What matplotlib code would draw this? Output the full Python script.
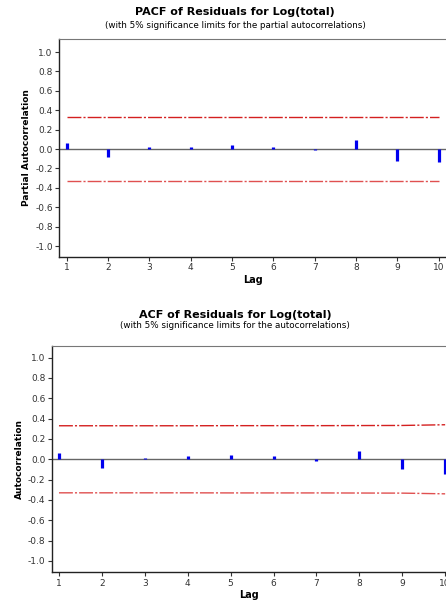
import numpy as np
import matplotlib
matplotlib.use('Agg')
from matplotlib import pyplot as plt

# 读图估计的数值
lags = [1, 2, 3, 4, 5, 6, 7, 8, 9, 10]
pacf = [0.058, -0.087, 0.02, 0.02, 0.04, 0.02, -0.01, 0.093, -0.12, -0.13]
pacf_limit = [0.33, 0.33, 0.33, 0.33, 0.33, 0.33, 0.33, 0.33, 0.33, 0.33]
acf = [0.06, -0.083, 0.01, 0.033, 0.043, 0.03, -0.015, 0.082, -0.10, -0.14]
acf_limit = [0.330, 0.330, 0.330, 0.330, 0.331, 0.331, 0.331, 0.332, 0.333, 0.340]
yticks = [1.0, 0.8, 0.6, 0.4, 0.2, 0.0, -0.2, -0.4, -0.6, -0.8, -1.0]

plt.rcParams['font.family'] = ['DejaVu Sans']

fig = plt.figure(figsize=(4.46, 6.07), dpi=100)


def panel(rect, vals, lim, xlim, ylim, ylabel):
    ax = fig.add_axes(rect)
    ax.set_xlim(*xlim)
    ax.set_ylim(*ylim)
    ax.axhline(0, color='#666666', lw=1.0, zorder=1)
    ax.vlines(lags, 0, vals, color='#0000ee', lw=2.3, zorder=3)
    lim = np.array(lim)
    ax.plot(lags, lim, color='#d42020', lw=1.0, dashes=(10, 1.5, 1.5, 1.5), zorder=2)
    ax.plot(lags, -lim, color='#e05050', lw=1.0, dashes=(10, 1.5, 1.5, 1.5), zorder=2)
    ax.set_xticks(lags)
    ax.set_yticks(yticks)
    ax.set_yticklabels(['%.1f' % v for v in yticks])
    ax.tick_params(labelsize=6.5, length=3, width=0.8, colors='#333333', pad=1.5)
    for s in ['left', 'bottom']:
        ax.spines[s].set_color('#222222')
        ax.spines[s].set_linewidth(1.0)
    ax.spines['top'].set_color('#777777')
    ax.spines['right'].set_visible(False)
    ax.set_xlabel('Lag', fontsize=7, fontweight='bold', labelpad=2)
    ax.set_ylabel(ylabel, fontsize=6.5, fontweight='bold', labelpad=3)
    return ax


panel([0.1323, 0.5766, 0.8677, 0.3591], pacf, pacf_limit,
      (0.81, 10.18), (-1.113, 1.134), 'Partial Autocorrelation')
panel([0.1159, 0.0572, 0.8841, 0.3733], acf, acf_limit,
      (0.83, 10.02), (-1.112, 1.118), 'Autocorrelation')

fig.text(0.527, 1 - 12 / 607, 'PACF of Residuals for Log(total)',
         ha='center', va='center', fontsize=8, fontweight='bold')
fig.text(0.527, 1 - 25 / 607, '(with 5% significance limits for the partial autocorrelations)',
         ha='center', va='center', fontsize=6.3)
fig.text(0.527, 1 - 315 / 607, 'ACF of Residuals for Log(total)',
         ha='center', va='center', fontsize=8, fontweight='bold')
fig.text(0.527, 1 - 326 / 607, '(with 5% significance limits for the autocorrelations)',
         ha='center', va='center', fontsize=6.3)

fig.savefig('out.png', dpi=100)
